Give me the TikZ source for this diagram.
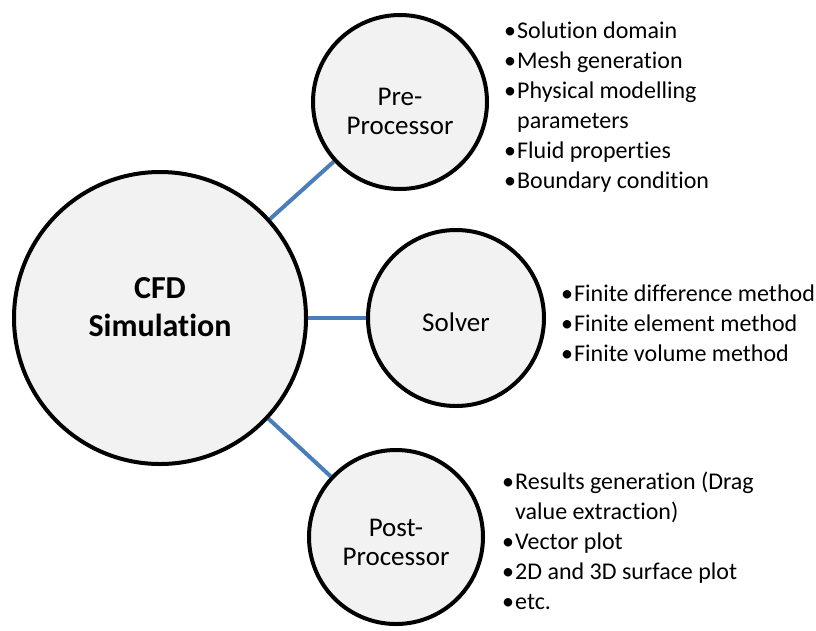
\documentclass[tikz,border=0pt]{standalone}
\usepackage{fontspec}
\setmainfont{Carlito}[Ligatures={NoCommon}]
\usetikzlibrary{positioning,backgrounds}
\definecolor{linkblue}{HTML}{4A7EBB}
\definecolor{bubblefill}{HTML}{F2F2F2}
\newcommand{\itm}{\makebox[13pt][l]{•}}
\newcommand{\cont}{\hspace*{13pt}}

\begin{document}
\begin{tikzpicture}[x=1pt,y=-1pt,
  bubble/.style={circle,draw=black,line width=4pt,fill=bubblefill,align=center,inner sep=0pt,
    minimum size=174pt,font=\fontsize{27}{29}\selectfont},
  hub/.style={bubble,minimum size=292pt,text depth=22pt,font=\bfseries\fontsize{32}{38}\selectfont},
  link/.style={linkblue,line width=4pt},
  notes/.style={anchor=west,align=left,inner sep=0pt,font=\fontsize{24}{30}\selectfont}]
  \useasboundingbox (0,0) rectangle (816,630);
  % circles
  \node[hub] (cfd) at (160,318) {CFD\\Simulation};
  \node[bubble,text height=66pt] (pre) at (400,102) {Pre-\\Processor};
  \node[bubble,minimum size=176pt,text height=27pt] (solver) at (456,318) {Solver};
  \node[bubble,text height=57pt] (post) at (396,537) {Post-\\Processor};
  % links
  \begin{scope}[on background layer]
    \draw[link] (cfd) -- (pre);
    \draw[link] (cfd) -- (solver);
    \draw[link] (cfd) -- (post);
  \end{scope}
  % bullet lists
  \node[notes,right=15pt of pre,yshift=-5pt] (prelist) {\itm Solution domain\\ \itm Mesh generation\\
    \itm Physical modelling\\ \cont parameters\\ \itm Fluid properties\\ \itm Boundary condition};
  \node[notes,right=15pt of solver,yshift=-5pt] (solverlist) {\itm Finite difference method\\
    \itm Finite element method\\ \itm Finite volume method};
  \node[notes,right=17pt of post,yshift=-4pt] (postlist) {\itm Results generation (Drag\\
    \cont value extraction)\\ \itm Vector plot\\ \itm 2D and 3D surface plot\\ \itm etc.};
\end{tikzpicture}
\end{document}
